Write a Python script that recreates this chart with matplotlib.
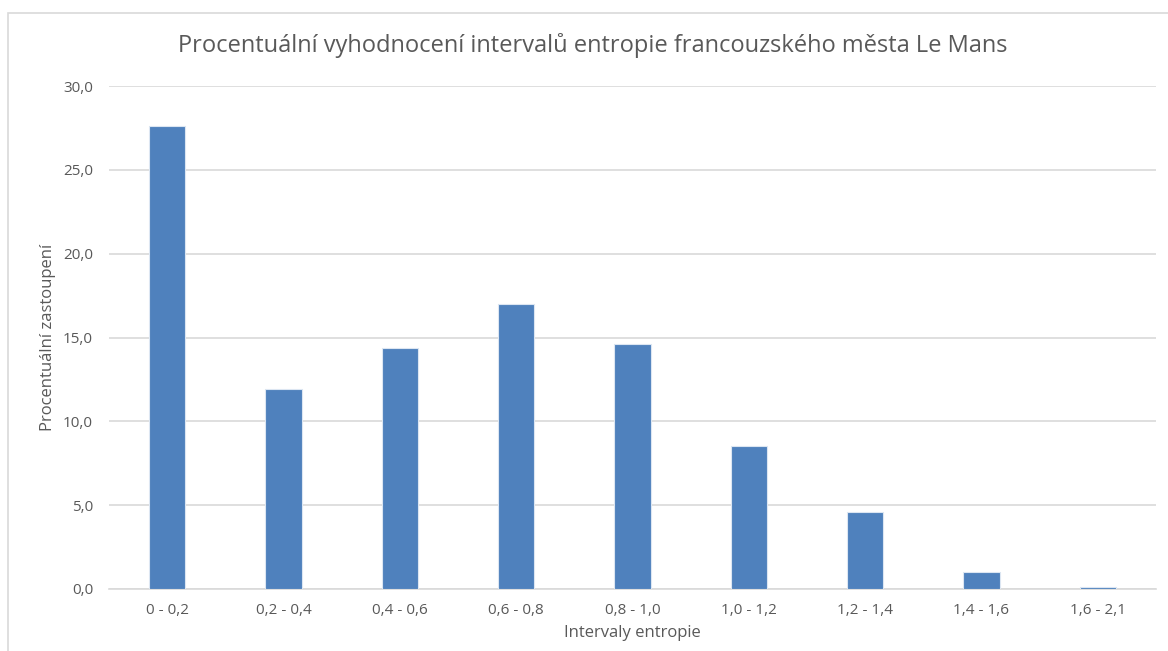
import matplotlib
matplotlib.use("Agg")
import matplotlib.pyplot as plt
from matplotlib.patches import Rectangle

# intervaly entropie a procentuální zastoupení
intervaly = ["0 - 0,2", "0,2 - 0,4", "0,4 - 0,6", "0,6 - 0,8", "0,8 - 1,0",
             "1,0 - 1,2", "1,2 - 1,4", "1,4 - 1,6", "1,6 - 2,1"]
procenta = [27.6, 11.9, 14.4, 17.0, 14.6, 8.5, 4.6, 1.0, 0.1]
y_ticks = [0, 5, 10, 15, 20, 25, 30]

plt.rcParams['font.family'] = ['Open Sans', 'DejaVu Sans']
text_col = '#595959'

fig = plt.figure(figsize=(11.68, 6.51), dpi=100)
# rámeček grafu
fig.patches.append(Rectangle((8 / 1168, -0.1), 1.2, (651 - 13) / 651 + 0.1,
                             transform=fig.transFigure, fill=False,
                             edgecolor='#D9D9D9', linewidth=1.2))

ax = fig.add_axes([109 / 1168, 62 / 651, (1156 - 109) / 1168, (589 - 86) / 651])
x = range(len(intervaly))
ax.bar(x, procenta, width=0.31, color='#4F81BD', edgecolor='#DCE6F2',
       linewidth=0.8, zorder=3)

ax.set_xlim(-0.5, len(intervaly) - 0.5)
ax.set_ylim(0, 30)
ax.set_yticks(y_ticks)
ax.set_yticklabels([f"{v:.1f}".replace('.', ',') for v in y_ticks])
ax.set_xticks(list(x))
ax.set_xticklabels(intervaly)
ax.tick_params(length=0, labelsize=11, colors=text_col)
ax.tick_params(axis='x', pad=10)
ax.tick_params(axis='y', pad=11.5)
ax.grid(axis='y', color='#D9D9D9', linewidth=1.2, zorder=0)
for s in ['top', 'right', 'left']:
    ax.spines[s].set_visible(False)
ax.spines['bottom'].set_color('#D9D9D9')
ax.spines['bottom'].set_linewidth(1.2)

ax.set_xlabel("Intervaly entropie", fontsize=12, color=text_col, labelpad=5)
ax.set_ylabel("Procentuální zastoupení", fontsize=12, color=text_col, labelpad=5)
fig.text(0.5 * (178 + 1008) / 1168, (651 - 46) / 651,
         "Procentuální vyhodnocení intervalů entropie francouzského města Le Mans",
         ha='center', va='center', fontsize=17, color=text_col)

fig.savefig("out.png", dpi=100)
